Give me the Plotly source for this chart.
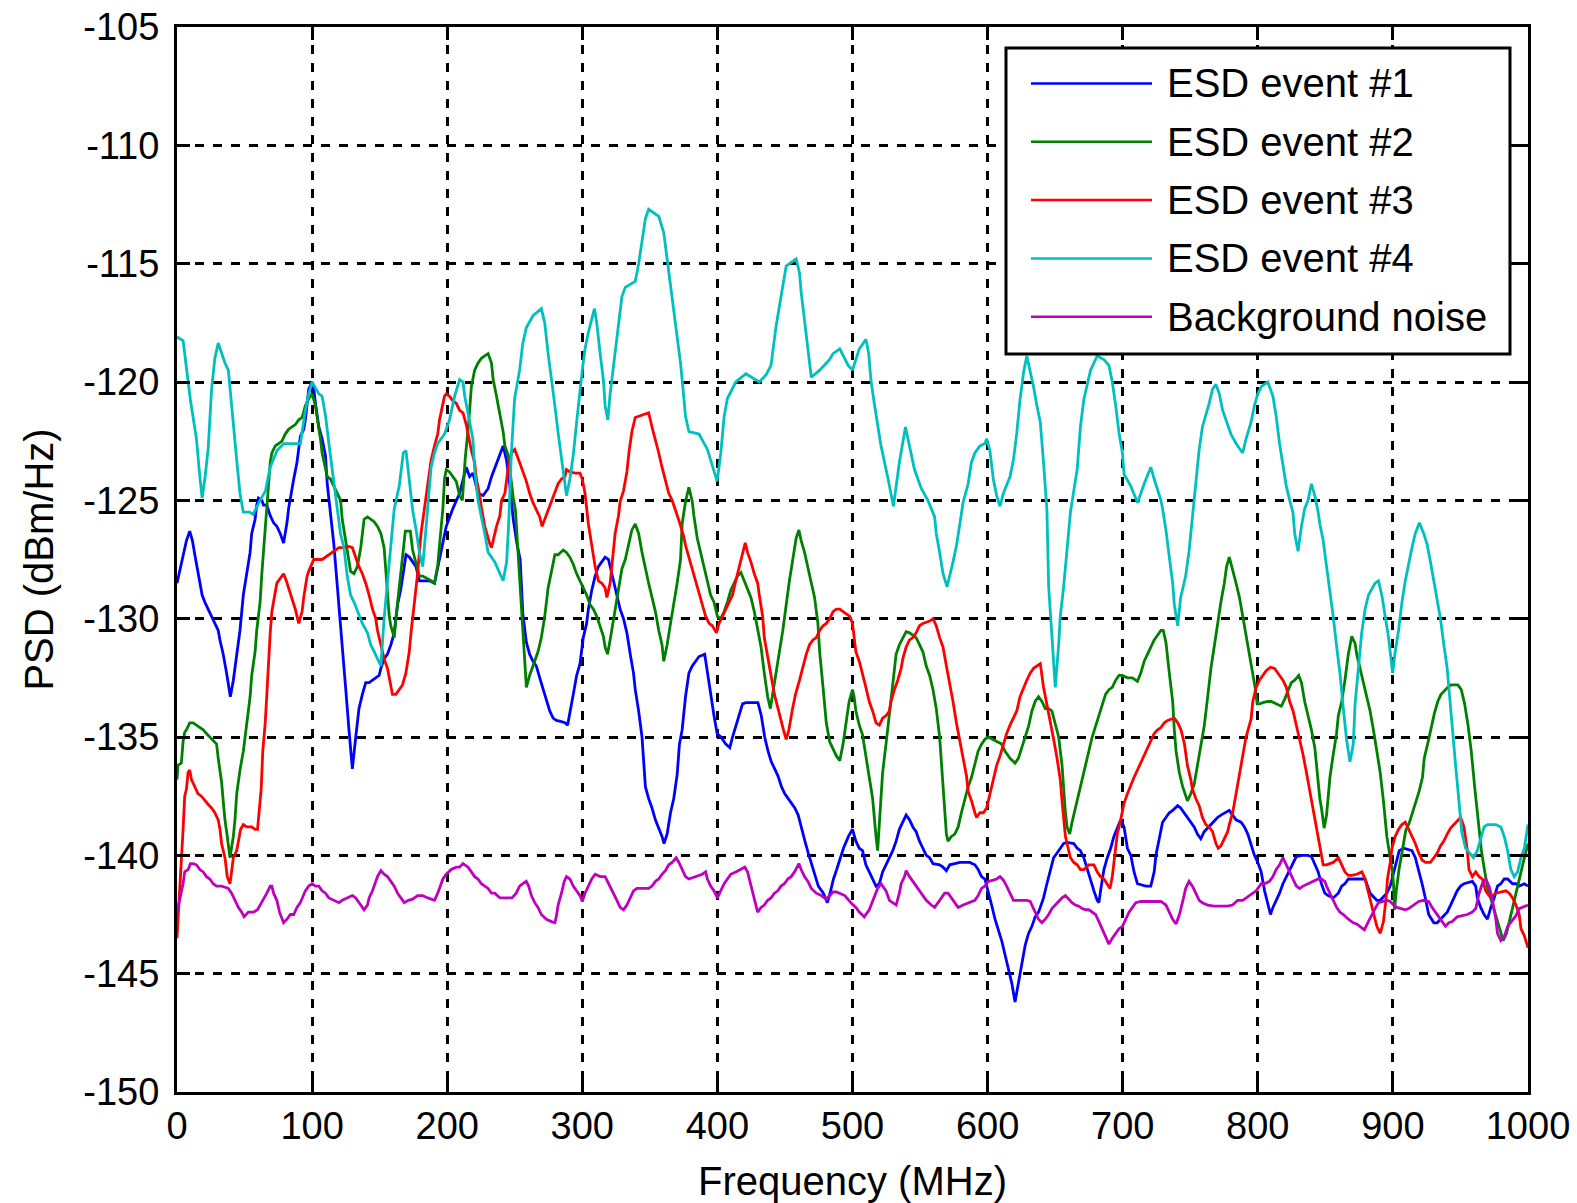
import plotly.graph_objects as go

# Power spectral density traces: (frequency in MHz, PSD in dBm/Hz)
esd_event_1 = [(0,-128.5),(4.5,-127.3),(7,-126.7),(9.4,-126.3),(11.4,-126.7),(13.2,-127.3),(15.6,-128.1),(18.6,-129.0),(20.6,-129.3),(25.6,-129.9),(30.5,-130.5),(31.8,-130.9),(34.2,-131.5),(36.7,-132.3),(38,-132.7),(39.5,-133.3),(41.7,-132.6),(44.2,-131.4),(46.6,-130.5),(49.1,-129.0),(51.6,-128.1),(54.1,-127.2),(55.3,-126.4),(57.8,-125.8),(59,-125.2),(60.3,-124.9),(62.8,-125.0),(64,-125.2),(66.5,-125.2),(69,-125.65),(71.5,-125.95),(73.9,-126.1),(76.4,-126.4),(78.9,-126.8),(81.4,-125.95),(82.6,-125.35),(86.4,-124.1),(88.8,-123.4),(91.3,-122.3),(93.8,-122.0),(95,-121.6),(96.3,-120.9),(97.5,-120.3),(100,-120.0),(101.2,-120.3),(102.5,-120.9),(103.7,-121.45),(105,-121.9),(107.4,-122.4),(109.9,-123.1),(111.2,-124.3),(113.6,-125.5),(116.1,-126.85),(117.9,-128.1),(119.9,-129.6),(122.3,-131.15),(124.8,-132.9),(127.3,-134.7),(129.8,-136.35),(132.3,-135.0),(134.7,-133.8),(137.2,-133.2),(139.7,-132.7),(142.2,-132.7),(149.6,-132.4),(150.9,-132.1),(153.3,-131.7),(155.8,-131.5),(158.3,-131.1),(160.8,-130.6),(163.3,-129.4),(165.8,-128.7),(167.5,-128.1),(169.5,-127.3),(172,-127.4),(176.9,-127.8),(179.4,-128.4),(186.8,-128.4),(190.6,-128.5),(193,-127.8),(195.5,-127.2),(199.3,-126.1),(204.2,-125.35),(209.2,-124.7),(214.1,-123.6),(216.6,-124.0),(219.1,-123.85),(222.8,-124.7),(226.6,-124.8),(230.3,-124.5),(232.8,-124.0),(236.5,-123.4),(239,-123.0),(241.4,-122.7),(243.9,-123.3),(246.4,-124.4),(248.9,-125.8),(251.5,-126.8),(254,-127.5),(256,-129.8),(258.6,-131.0),(261,-131.5),(263.5,-131.8),(266,-132.0),(268.5,-132.5),(271,-133.0),(273.4,-133.4),(275.9,-133.9),(278.4,-134.2),(280.8,-134.3),(284.6,-134.35),(287.1,-134.4),(289.1,-134.5),(290.8,-133.9),(293.3,-133.2),(295.8,-132.4),(298.3,-131.9),(300.7,-130.8),(303.2,-130.2),(304.5,-129.6),(307,-128.8),(309.5,-128.2),(311.9,-127.8),(314.4,-127.6),(316.9,-127.4),(319.4,-127.5),(320.6,-127.8),(321.8,-128.1),(323.1,-128.5),(325.6,-129.0),(328,-129.6),(330.5,-130.0),(333,-130.6),(335.5,-131.5),(337.9,-132.3),(339.2,-133.0),(341.7,-133.9),(344.2,-135.0),(345.4,-136.2),(346.7,-137.1),(349.1,-137.6),(351.6,-138.0),(354.1,-138.5),(356.6,-138.85),(359,-139.2),(360.5,-139.5),(362.8,-139.1),(365.3,-138.2),(367.7,-137.6),(370.2,-136.6),(371.9,-135.3),(373.9,-134.7),(376.4,-133.3),(378.9,-132.3),(381.4,-132.0),(383.9,-131.8),(386.4,-131.6),(390.6,-131.5),(392.6,-132.3),(395,-133.2),(397.5,-134.1),(399.8,-134.85),(402.5,-135.0),(406.2,-135.3),(409.2,-135.45),(411.2,-135.0),(413.6,-134.55),(416.1,-134.1),(418.6,-133.6),(421.1,-133.55),(430,-133.55),(432.5,-134.1),(435,-135.0),(437.5,-135.6),(439.9,-136.05),(442.4,-136.35),(444.9,-136.65),(447.4,-137.1),(449.9,-137.4),(453.6,-137.7),(457.3,-138.0),(459.8,-138.3),(462.3,-138.8),(464.8,-139.4),(467.2,-139.9),(469.7,-140.4),(472.2,-140.9),(474.7,-141.3),(478.4,-141.6),(481.4,-142.0),(483.4,-141.6),(485.9,-141.0),(488.3,-140.6),(490.8,-140.1),(493.3,-139.7),(497,-139.2),(500,-138.9),(502.5,-139.4),(505,-139.7),(507.4,-139.8),(509.9,-140.4),(512.4,-140.7),(514.9,-141.0),(517.4,-141.3),(519.9,-141.2),(522.3,-140.7),(524.8,-140.4),(527.3,-140.1),(529.8,-139.8),(532.3,-139.4),(534.7,-138.9),(537.2,-138.6),(539.7,-138.3),(542.2,-138.5),(544.7,-138.8),(547.1,-139.0),(549.6,-139.4),(552.1,-139.7),(554.6,-140.0),(557.1,-140.1),(559.6,-140.35),(564.5,-140.4),(567,-140.5),(569.5,-140.65),(572,-140.4),(575.7,-140.35),(579.4,-140.3),(586.8,-140.3),(590.6,-140.4),(593,-140.6),(595.5,-140.9),(598,-141.0),(600.5,-141.5),(603,-142.1),(605.5,-142.7),(607.9,-143.1),(610.4,-143.6),(612.9,-144.2),(615.4,-144.8),(617.9,-145.4),(620.3,-146.2),(622.8,-145.4),(625.3,-144.7),(627.8,-143.8),(630.3,-143.3),(632.8,-143.0),(635.2,-142.6),(637.7,-142.4),(639,-142.2),(641.4,-141.8),(643.9,-141.2),(646.4,-140.7),(648.9,-140.1),(651.4,-139.9),(653.8,-139.7),(656.3,-139.5),(658.8,-139.45),(663.8,-139.5),(666.3,-139.7),(668.7,-139.8),(671.2,-140.1),(673.7,-140.6),(676.2,-141.0),(678.7,-141.5),(681.1,-141.9),(682.4,-142.0),(683.6,-141.5),(686.1,-140.6),(688.6,-140.1),(691.1,-139.7),(693.5,-139.2),(696,-138.85),(698.5,-138.5),(701,-138.8),(702.2,-139.2),(703.5,-139.7),(706,-140.0),(707.2,-140.4),(708.4,-140.7),(710.9,-141.2),(713.4,-141.25),(717.1,-141.3),(720.8,-141.3),(723.3,-140.7),(724.6,-140.0),(727.1,-139.2),(729.5,-138.6),(732,-138.4),(734.5,-138.2),(737,-138.1),(740.7,-137.9),(742.9,-138.0),(745.4,-138.2),(747.9,-138.4),(750.4,-138.6),(752.9,-138.8),(755.3,-139.1),(757.8,-139.3),(760.3,-139.0),(762.8,-138.85),(765.3,-138.7),(767.7,-138.55),(770.2,-138.4),(772.7,-138.3),(776.4,-138.2),(778.9,-138.1),(781.4,-138.3),(783.9,-138.5),(787.6,-138.6),(790.1,-138.8),(792.6,-139.1),(795,-139.5),(797.5,-140.0),(800,-140.3),(802.5,-140.7),(805,-141.5),(807.4,-142.1),(809.4,-142.5),(811.2,-142.2),(813.6,-141.9),(816.1,-141.6),(818.6,-141.2),(821.1,-140.9),(823.6,-140.6),(826.1,-140.3),(828.5,-140.05),(832.3,-140.0),(837.2,-140.0),(839.7,-140.05),(842.2,-140.4),(844.7,-140.7),(847.1,-141.2),(849.6,-141.6),(852.1,-141.7),(855.8,-141.8),(859.6,-141.6),(862.1,-141.3),(864.5,-141.2),(867,-141.0),(879.4,-141.0),(881.4,-141.3),(883.1,-141.6),(885.6,-141.75),(888.1,-141.9),(890.6,-141.9),(893,-141.75),(895.5,-141.6),(898,-141.3),(900.5,-140.7),(903,-140.1),(904.7,-139.8),(908,-139.7),(914.1,-139.8),(916.6,-140.1),(919.1,-140.6),(921.6,-141.2),(924,-141.8),(926.5,-142.5),(930.3,-142.85),(932.8,-142.85),(935.2,-142.7),(937.7,-142.55),(940.2,-142.4),(942.7,-142.1),(945.2,-141.8),(947.6,-141.5),(950.1,-141.3),(952.6,-141.2),(958.8,-141.1),(961.3,-141.3),(962.5,-141.8),(965,-142.2),(967.5,-142.5),(970,-142.7),(972.5,-142.2),(975,-141.8),(977.4,-141.3),(979.9,-141.2),(982.4,-141.0),(984.9,-141.0),(988.6,-141.2),(991.1,-141.2),(993.5,-141.3),(997.3,-141.2),(1000,-141.3)]

esd_event_2 = [(0,-136.8),(0.7,-136.2),(3.2,-136.1),(4.5,-135.2),(5.7,-134.8),(7,-134.7),(9.4,-134.4),(11.9,-134.4),(14.4,-134.5),(16.9,-134.6),(19.4,-134.7),(21.8,-134.85),(24.3,-135.0),(26.8,-135.15),(29.3,-135.3),(30.5,-135.9),(33,-136.9),(34.2,-137.7),(35.5,-138.5),(37.2,-139.2),(39.2,-140.1),(41.7,-139.2),(42.9,-138.5),(44.2,-137.4),(46.6,-136.4),(49.1,-135.6),(51.6,-134.4),(54.1,-133.3),(55.3,-132.4),(57.8,-131.4),(59,-130.5),(60.3,-129.9),(61.5,-129.3),(62.8,-128.1),(64,-127.2),(65.3,-126.1),(66.5,-125.35),(67.7,-124.1),(69,-123.4),(70.2,-123.0),(72.7,-122.7),(75.2,-122.6),(77.7,-122.5),(80.1,-122.2),(82.6,-122.0),(85.1,-121.9),(87.6,-121.8),(90.1,-121.6),(92.6,-121.5),(95,-121.0),(97.5,-120.7),(100,-120.5),(102.5,-121.0),(105,-122.0),(106.2,-122.4),(107.4,-123.0),(108.7,-123.4),(111.2,-124.0),(113.6,-124.1),(116.1,-124.4),(118.6,-124.7),(121.1,-125.0),(122.3,-125.8),(123.6,-126.3),(126,-127.1),(128.5,-128.0),(131,-128.1),(133.5,-127.8),(136,-127.0),(137.2,-126.3),(138.5,-125.8),(141,-125.7),(143.4,-125.8),(145.9,-125.9),(148.4,-126.1),(150.9,-126.4),(153.3,-127.0),(154.6,-128.1),(155.8,-129.0),(157.1,-129.9),(158.3,-130.3),(160.8,-130.8),(162,-130.0),(163.3,-129.3),(165.8,-128.1),(167.5,-127.2),(169,-126.3),(170.7,-126.3),(172.7,-126.3),(174.4,-127.1),(176.9,-127.6),(179.4,-128.2),(181.9,-128.2),(185.6,-128.3),(188.1,-128.4),(190.6,-128.5),(193,-127.75),(194.3,-126.9),(196.8,-125.35),(198,-124.1),(199.3,-123.7),(201.7,-123.8),(204.2,-124.0),(206.7,-124.2),(209.2,-124.8),(211.2,-125.0),(213.4,-123.2),(215.8,-121.8),(217.9,-120.2),(220.3,-119.5),(222.8,-119.2),(225.3,-119.0),(227.8,-118.9),(230.3,-118.8),(232.8,-119.2),(234,-119.9),(236.5,-120.6),(239,-121.3),(241.4,-122.1),(242.7,-122.7),(245.2,-123.1),(246.4,-123.7),(247.6,-124.4),(248.9,-124.9),(250.5,-125.4),(251.7,-126.5),(253.6,-128.4),(256,-130.5),(258.6,-132.9),(261,-132.4),(263.5,-132.0),(264.8,-131.7),(267.2,-131.4),(269.7,-130.8),(272.2,-129.9),(274.7,-128.7),(277.2,-128.0),(279.7,-127.3),(282.1,-127.3),(285.9,-127.1),(288.3,-127.2),(290.8,-127.4),(293.3,-127.7),(295.8,-128.1),(298.3,-128.4),(300.7,-128.7),(303.2,-129.0),(305.7,-129.4),(308.2,-129.6),(310.7,-129.9),(313.2,-130.3),(315.6,-130.75),(316.9,-131.2),(318.7,-131.5),(320.6,-130.9),(321.8,-130.5),(324.3,-129.7),(326.8,-128.7),(329.3,-127.9),(331.8,-127.5),(334.2,-126.9),(336.7,-126.25),(339.2,-126.0),(341.7,-126.4),(344.2,-127.2),(346.7,-127.9),(349.1,-128.5),(351.6,-129.1),(354.1,-129.7),(356.6,-130.5),(359,-131.1),(360.3,-131.8),(362.8,-131.1),(365.3,-130.2),(367.7,-129.4),(370.2,-128.5),(372.7,-127.5),(373.9,-126.0),(376.4,-125.05),(377.7,-124.7),(378.9,-124.45),(381.4,-125.05),(382.6,-125.65),(385.1,-126.6),(387.6,-127.2),(390.1,-127.9),(392.6,-128.5),(395,-129.0),(397.5,-129.3),(400,-129.9),(402.5,-130.0),(405,-129.7),(407.4,-129.3),(409.9,-128.8),(412.4,-128.5),(414.9,-128.2),(417.4,-128.05),(419.9,-128.4),(422.3,-128.7),(424.8,-129.1),(427.3,-129.7),(429.8,-130.5),(432.3,-131.2),(434.7,-132.3),(437.2,-133.3),(439.2,-133.8),(441,-133.2),(443.4,-132.3),(445.9,-131.4),(448.4,-130.5),(450.9,-129.4),(453.3,-128.4),(455.8,-127.5),(458.3,-126.6),(460.3,-126.25),(462,-126.7),(464.5,-127.2),(467,-127.8),(469.5,-128.4),(471.9,-129.1),(474.4,-130.2),(475.7,-131.4),(478.2,-132.9),(480.6,-134.4),(483.1,-135.2),(485.6,-135.5),(488.1,-135.8),(490.6,-136.0),(493,-135.3),(495.5,-134.3),(497.5,-133.5),(500,-133.0),(501.2,-133.3),(502.5,-133.9),(505,-134.5),(507.4,-134.9),(509.9,-135.9),(512.4,-136.7),(514.9,-137.6),(516.1,-138.5),(517.4,-139.2),(518.6,-139.8),(519.9,-138.6),(521.1,-137.7),(522.3,-136.5),(524.8,-135.3),(526,-134.7),(527.3,-133.9),(528.5,-133.2),(529.8,-132.6),(531,-132.0),(532.3,-131.5),(534.7,-131.1),(537.2,-130.8),(539.7,-130.55),(542.2,-130.6),(544.7,-130.7),(547.1,-130.8),(549.6,-131.1),(552.1,-131.4),(554.6,-132.0),(557.1,-132.4),(559.6,-133.0),(562,-133.8),(564.5,-135.0),(565.8,-136.1),(567,-137.1),(568.2,-138.2),(569.5,-139.1),(570.7,-139.4),(573.2,-139.2),(575.7,-139.1),(578.2,-138.8),(580.6,-138.2),(583.1,-137.6),(585.6,-137.1),(588.1,-136.7),(590.6,-136.1),(593,-135.6),(595.5,-135.3),(598,-135.1),(600.5,-135.0),(604.2,-135.1),(607.9,-135.2),(610.4,-135.3),(612.9,-135.6),(616.6,-135.9),(620.3,-136.1),(622.8,-135.9),(625.3,-135.45),(627.8,-135.0),(630.3,-134.55),(632.8,-133.9),(635.2,-133.5),(637.7,-133.3),(640.2,-133.5),(642.7,-133.8),(645.2,-133.8),(647.6,-133.9),(650.1,-134.4),(652.6,-135.0),(655.1,-136.2),(656.3,-137.4),(657.6,-138.2),(658.8,-138.8),(660.8,-139.1),(662.5,-138.6),(665,-138.0),(667.5,-137.4),(670,-136.8),(672.5,-136.2),(674.9,-135.6),(677.4,-135.0),(679.9,-134.55),(682.4,-134.1),(684.9,-133.6),(687.3,-133.2),(689.8,-133.0),(692.3,-132.9),(694.8,-132.6),(697.3,-132.4),(699.8,-132.4),(703.5,-132.5),(707.2,-132.5),(710.9,-132.65),(713.4,-132.3),(715.9,-131.8),(718.4,-131.5),(720.8,-131.2),(723.3,-130.9),(725.8,-130.7),(728.3,-130.5),(730,-130.5),(732,-131.0),(734.5,-132.3),(737,-133.5),(738.2,-134.7),(739.5,-135.6),(741.9,-136.5),(744.4,-137.1),(747.9,-137.7),(750.4,-137.4),(752.9,-137.0),(755.3,-136.2),(757.8,-135.3),(760.3,-134.55),(762.8,-133.35),(765.3,-132.1),(767.7,-131.2),(770.2,-130.2),(772.7,-129.3),(775.2,-128.5),(776.9,-127.8),(778.9,-127.4),(781.4,-127.9),(783.9,-128.5),(786.4,-129.1),(788.8,-129.9),(791.3,-130.6),(793.8,-131.4),(795.5,-132.1),(798,-132.9),(799.5,-133.6),(801.2,-133.6),(803.7,-133.55),(807.4,-133.5),(809.9,-133.5),(813.6,-133.6),(817.4,-133.7),(819.9,-133.4),(822.3,-133.05),(824.8,-132.7),(827.3,-132.6),(830.3,-132.4),(832.3,-132.7),(834.7,-133.5),(837.2,-134.1),(839.7,-134.7),(842.2,-135.45),(843.4,-136.2),(844.7,-137.0),(845.9,-137.6),(847.1,-138.0),(849.1,-138.85),(850.9,-138.3),(852.1,-137.4),(853.4,-136.7),(855.8,-135.75),(858.3,-134.85),(859.6,-134.1),(862.1,-133.5),(864.5,-132.6),(867,-131.5),(869.5,-130.75),(872,-131.05),(873.2,-131.5),(875.7,-132.1),(878.2,-132.7),(880.6,-133.2),(883.1,-133.9),(885.6,-134.7),(888.1,-135.6),(890.6,-136.5),(893,-137.7),(894.3,-138.6),(895.5,-139.2),(898,-140.1),(899.8,-140.7),(900.5,-141.3),(901.2,-142.3),(902.5,-141.5),(904.5,-140.6),(907,-139.8),(909.5,-138.95),(912,-138.65),(914.5,-138.2),(917,-137.7),(919.4,-137.3),(921.9,-136.7),(923.2,-135.9),(925.7,-135.3),(928.2,-134.6),(930.7,-134.0),(933.2,-133.5),(935.6,-133.2),(938.1,-133.05),(940.6,-132.9),(943.1,-132.8),(948.1,-132.8),(950.6,-133.0),(953.1,-133.6),(955.6,-134.5),(958,-135.6),(960.5,-137.1),(963,-138.5),(965.5,-139.8),(968,-140.7),(970.5,-141.5),(972.9,-141.9),(975.4,-142.4),(977.9,-142.8),(980.4,-143.3),(981.6,-143.6),(984.1,-143.3),(986.6,-142.7),(989.1,-142.1),(991.6,-141.5),(994,-140.8),(996.5,-140.3),(1000,-139.5)]

esd_event_3 = [(0,-143.5),(2,-141.5),(3.2,-140.6),(4.5,-138.9),(5.7,-137.5),(7,-137.2),(8.2,-136.5),(9.4,-136.4),(10.7,-136.8),(13.2,-137.1),(15.6,-137.4),(18.1,-137.5),(20.6,-137.7),(23.1,-137.85),(25.6,-138.0),(28,-138.2),(30.5,-138.5),(31.8,-138.9),(33,-139.5),(34.2,-139.8),(35.5,-140.1),(37.2,-140.9),(39.2,-141.2),(40.4,-140.7),(41.7,-140.1),(44.2,-139.8),(45.4,-139.4),(47.1,-138.9),(49.1,-138.7),(51.6,-138.8),(55.3,-138.8),(57.8,-138.9),(59.6,-138.9),(61,-138.1),(62.3,-137.2),(63.5,-135.6),(65.3,-134.4),(66.5,-133.2),(67.7,-131.7),(69,-130.6),(70.2,-129.7),(71.5,-129.3),(72.7,-128.8),(73.9,-128.5),(76.4,-128.3),(78.9,-128.1),(80.9,-128.4),(82.6,-128.7),(85.1,-129.1),(87.6,-129.6),(90.1,-130.2),(92.6,-129.7),(93.8,-129.1),(95,-128.7),(96.3,-128.2),(97.5,-128.0),(98.8,-127.8),(100,-127.6),(101.2,-127.5),(107.4,-127.5),(109.9,-127.4),(112.4,-127.3),(114.9,-127.2),(117.4,-127.1),(119.9,-127.0),(123.6,-127.0),(127.3,-126.95),(129.8,-127.0),(132.3,-127.4),(134.7,-127.8),(137.2,-128.1),(139.7,-128.5),(142.2,-129.0),(144.7,-129.6),(147.1,-130.0),(148.4,-130.5),(150.9,-131.1),(153.3,-131.7),(155.8,-132.1),(157.8,-132.7),(159.5,-133.2),(162,-133.2),(164.5,-133.0),(166.9,-132.8),(169.4,-132.3),(171.9,-131.4),(173.2,-130.6),(174.4,-130.0),(176.9,-128.7),(178.1,-128.1),(180.6,-126.4),(183.1,-125.35),(185.6,-124.4),(188.1,-123.3),(190.6,-122.7),(193,-122.2),(194.3,-121.6),(195.5,-121.3),(196.8,-120.9),(198,-120.6),(199.3,-120.5),(201.7,-120.6),(204.2,-120.8),(206.7,-120.9),(209.2,-121.2),(211.7,-121.3),(214.1,-121.8),(215.4,-122.2),(216.6,-122.6),(217.9,-122.9),(220.3,-123.4),(221.6,-124.1),(224.1,-124.8),(225.3,-125.3),(227.8,-126.1),(229.1,-126.4),(231.6,-126.85),(232.8,-127.0),(234,-126.7),(236.5,-126.1),(239,-125.65),(240.2,-125.0),(242.7,-124.7),(245.2,-123.6),(247.6,-123.0),(250,-122.85),(253.6,-123.4),(256,-123.8),(258.6,-124.2),(261,-124.7),(263.5,-125.1),(266,-125.4),(268.5,-125.7),(270.2,-126.1),(272.2,-125.8),(274.7,-125.4),(277.2,-125.0),(279.7,-124.7),(282.1,-124.3),(284.6,-124.1),(287.1,-124.0),(288.3,-123.7),(290.8,-123.8),(294.5,-123.85),(298.3,-123.85),(300,-124.1),(302,-124.7),(304.5,-126.0),(307,-126.9),(309.5,-127.8),(311.9,-128.4),(314.4,-128.5),(316.9,-128.7),(318.2,-129.1),(320.6,-128.5),(321.8,-127.9),(324.3,-126.4),(326.8,-125.65),(328,-125.05),(330.5,-124.6),(333,-123.8),(334.7,-122.9),(336.7,-122.1),(339.2,-121.5),(341.7,-121.45),(345.4,-121.4),(349.1,-121.3),(351.6,-121.9),(354.1,-122.4),(356.6,-123.0),(359,-123.6),(361.5,-124.1),(364,-124.7),(366.5,-125.0),(369,-125.4),(371.5,-125.85),(373.9,-126.3),(375.2,-126.55),(376.4,-126.9),(378.9,-127.4),(381.4,-128.0),(383.9,-128.5),(386.4,-128.9),(388.8,-129.4),(391.3,-129.9),(393.8,-130.2),(396.3,-130.3),(399.3,-130.6),(401.2,-130.2),(403.7,-129.9),(406.2,-129.6),(408.7,-129.3),(411.2,-129.0),(413.6,-128.4),(416.1,-127.8),(418.6,-127.2),(420.6,-126.8),(422.3,-127.2),(424.8,-127.6),(427.3,-128.1),(429.8,-128.5),(431,-129.0),(433.5,-129.9),(434.7,-130.8),(437.2,-131.7),(439.7,-132.4),(442.2,-133.2),(444.7,-133.8),(447.1,-134.25),(448.9,-134.7),(450.9,-135.1),(452.9,-134.7),(455.3,-133.9),(457.8,-133.2),(460.8,-132.6),(463.3,-132.0),(465.8,-131.5),(468.2,-131.1),(470.7,-130.9),(473.2,-130.8),(475.7,-130.5),(478.2,-130.3),(480.6,-130.2),(483.1,-130.0),(485.6,-129.7),(488.1,-129.6),(490.6,-129.6),(493,-129.7),(495.5,-129.8),(498,-129.9),(500,-130.2),(501.2,-130.8),(502.5,-131.4),(505,-131.8),(507.4,-132.3),(509.9,-132.9),(512.4,-133.5),(514.9,-133.9),(517.4,-134.4),(519.9,-134.5),(522.3,-134.2),(524.8,-134.1),(527.3,-133.9),(528.5,-133.5),(531,-133.0),(533.5,-132.6),(536,-132.1),(537.2,-131.7),(539.7,-131.2),(542.2,-130.9),(544.7,-130.8),(547.1,-130.6),(549.6,-130.3),(552.1,-130.2),(554.6,-130.15),(557.1,-130.1),(559.6,-130.0),(562,-130.3),(564.5,-130.8),(567,-131.2),(569.5,-132.0),(572,-132.7),(574.4,-133.5),(576.9,-134.4),(579.4,-135.1),(581.9,-135.9),(584.4,-136.65),(585.6,-137.3),(588.1,-137.7),(590.6,-138.2),(591.8,-138.4),(594.3,-138.2),(596.8,-138.2),(599.3,-138.0),(601.7,-137.4),(604.2,-136.8),(606.7,-136.2),(609.2,-135.8),(611.7,-135.3),(614.1,-134.85),(616.6,-134.5),(619.1,-134.2),(621.6,-133.9),(624,-133.3),(626.6,-132.9),(629,-132.6),(631.5,-132.3),(634,-132.1),(636.5,-132.0),(639,-131.9),(641.4,-132.9),(643.9,-133.6),(646.4,-134.4),(648.9,-135.1),(651.4,-135.9),(653.8,-136.8),(655.1,-137.7),(656.3,-138.4),(657.6,-139.2),(658.8,-139.5),(660.1,-139.8),(661.3,-140.1),(663.8,-140.3),(666.3,-140.4),(668.7,-140.6),(671.2,-140.6),(674.9,-140.4),(678.7,-140.4),(681.1,-140.7),(683.6,-140.9),(686.1,-141.0),(688.6,-141.2),(690.6,-141.4),(692.3,-140.9),(693.5,-140.3),(694.8,-139.7),(696,-139.1),(698.5,-138.5),(699.8,-138.1),(701,-137.8),(703.5,-137.4),(706,-137.0),(708.4,-136.7),(710.9,-136.4),(713.4,-136.1),(715.9,-135.8),(718.4,-135.5),(720.8,-135.2),(723.3,-134.85),(725.8,-134.7),(728.3,-134.6),(730.8,-134.4),(733.3,-134.3),(735.7,-134.25),(738.2,-134.2),(740.7,-134.4),(743.2,-134.7),(745.7,-135.3),(747.9,-136.2),(750.4,-136.8),(751.6,-137.2),(754.1,-137.6),(756.6,-137.9),(759,-138.4),(761.5,-138.7),(764,-138.8),(766.5,-139.0),(769,-139.5),(770.7,-139.7),(772.7,-139.6),(775.2,-139.3),(777.7,-139.0),(778.9,-138.7),(781.4,-138.2),(783.9,-137.4),(786.4,-136.5),(788.8,-135.8),(791.3,-135.0),(793,-134.7),(795,-134.25),(796.3,-133.5),(798.8,-132.9),(801.2,-132.6),(803.7,-132.4),(806.2,-132.2),(809.4,-132.05),(812.4,-132.1),(816.1,-132.4),(818.6,-132.6),(821.1,-132.9),(823.6,-133.5),(826.1,-133.9),(828.5,-134.5),(831,-135.0),(833.5,-135.75),(836,-136.5),(838.5,-137.3),(840.9,-138.0),(843.4,-138.9),(845.9,-139.7),(848.4,-140.4),(850.9,-140.4),(853.4,-140.35),(855.8,-140.3),(859.6,-140.1),(862.1,-140.4),(864.5,-140.7),(867,-140.85),(869.5,-140.85),(873.2,-140.8),(877,-140.7),(879.4,-141.0),(881.9,-141.6),(884.4,-142.2),(886.8,-142.7),(888.1,-143.0),(890.6,-143.3),(893,-142.8),(894.8,-141.9),(896,-141.0),(898,-140.3),(899.3,-139.7),(901.7,-139.2),(904.2,-138.9),(906.7,-138.7),(909.2,-138.6),(911.7,-138.9),(914.1,-139.2),(916.6,-139.5),(919.1,-139.9),(921.6,-140.2),(924,-140.3),(927.8,-140.3),(930.3,-140.1),(932.8,-139.9),(935.2,-139.6),(937.7,-139.4),(940.2,-139.1),(942.7,-138.85),(945.2,-138.7),(947.6,-138.55),(950.1,-138.4),(952.6,-138.8),(953.8,-139.2),(955.1,-139.8),(956.3,-140.6),(958.8,-140.9),(961.3,-140.7),(963.8,-140.9),(966.2,-141.0),(968.7,-141.5),(971.2,-141.7),(973.7,-141.7),(976.2,-141.6),(979.9,-141.55),(983.6,-141.5),(986.1,-141.6),(988.6,-141.8),(991.1,-142.1),(993.5,-142.5),(994.8,-143.1),(997.3,-143.4),(1000,-143.9)]

esd_event_4 = [(0,-118.1),(4.5,-118.25),(9.9,-120.75),(14.4,-122.4),(16.9,-124.0),(18.6,-124.9),(20.6,-124.1),(23.1,-122.8),(25.6,-120.3),(28,-119.0),(30.5,-118.35),(33,-118.8),(35.5,-119.2),(38,-119.5),(39.2,-120.3),(41.7,-121.9),(44.2,-123.3),(46.6,-124.7),(49.1,-125.5),(53.8,-125.5),(56.3,-125.6),(61.5,-125.0),(65.5,-124.6),(69,-123.6),(74,-122.9),(79,-122.6),(91.3,-122.6),(95,-121.2),(97.5,-120.5),(100,-120.0),(105,-120.5),(107.4,-120.6),(110,-121.45),(112.4,-122.6),(114.9,-123.6),(117.4,-124.8),(121,-126.4),(123.6,-127.0),(126,-128.2),(128.5,-129.0),(131,-129.3),(133.5,-129.7),(137.2,-130.2),(141,-130.6),(143.4,-131.1),(146,-131.4),(148.4,-131.7),(150.9,-132.0),(153.3,-130.0),(155.8,-128.4),(158.3,-127.0),(160.8,-125.35),(164.5,-124.4),(167.5,-123.0),(169.5,-122.9),(172,-124.1),(174.4,-125.4),(177,-126.25),(179.4,-127.2),(181.9,-127.8),(184.4,-126.1),(186.8,-124.6),(188.1,-123.6),(190.6,-123.0),(193,-122.6),(195.5,-122.4),(198,-122.2),(201.7,-121.6),(205.5,-120.6),(209.2,-119.9),(211.7,-120.0),(213,-120.6),(216.6,-121.6),(219,-122.4),(220.3,-123.7),(222.8,-125.0),(227.8,-126.4),(230.3,-127.2),(235.2,-127.6),(237.7,-127.9),(241.4,-128.4),(244,-127.6),(245.5,-126.0),(247.4,-123.1),(249.9,-120.7),(253.6,-119.5),(256,-118.35),(258.6,-117.7),(263.5,-117.2),(269.7,-116.9),(272.2,-117.5),(274.7,-118.8),(277.2,-119.8),(279.7,-121.0),(282.1,-122.15),(284.6,-123.3),(287.1,-124.3),(288.3,-124.8),(290.8,-124.1),(293.3,-123.1),(295.8,-121.7),(298.3,-120.3),(300,-119.5),(302,-118.6),(304.5,-117.9),(309,-116.9),(310.7,-117.5),(313.2,-118.8),(315.6,-119.9),(316.9,-121.0),(318.9,-121.6),(320.6,-120.5),(324.3,-118.8),(326.8,-117.6),(329.3,-116.4),(331.8,-116.0),(339.2,-115.75),(341.7,-115.0),(344.2,-114.0),(346.7,-113.1),(349.1,-112.7),(356.6,-113.0),(360.3,-113.7),(362.8,-114.8),(365.3,-115.8),(367.7,-116.9),(370.2,-118.1),(372.7,-119.2),(374.4,-120.2),(376.4,-121.45),(378.9,-122.1),(386.4,-122.2),(392.6,-122.85),(395,-123.3),(397.5,-123.85),(399.8,-124.2),(402.5,-123.0),(405,-121.45),(407.4,-120.7),(413.6,-120.0),(421.1,-119.65),(431,-120.0),(436,-119.7),(439.7,-119.3),(443.4,-117.65),(448.4,-116.0),(450.9,-115.1),(458.3,-114.8),(460.8,-115.4),(462,-116.2),(464.5,-117.4),(467,-118.6),(469.5,-119.8),(475.7,-119.5),(483.1,-119.05),(485.6,-118.8),(490.6,-118.6),(496.8,-119.3),(500,-119.5),(505,-118.6),(510,-118.2),(512,-118.8),(513.6,-119.9),(516.1,-120.9),(521.1,-122.7),(526,-124.0),(530.3,-125.25),(532.3,-124.4),(534.7,-123.4),(539.2,-121.9),(541,-122.4),(545.9,-123.7),(550.9,-124.5),(555.8,-125.0),(560.8,-125.7),(562,-126.4),(564.5,-127.2),(567,-128.1),(570,-128.65),(572,-128.2),(574.4,-127.6),(577,-126.9),(579.4,-126.1),(582,-125.05),(585.6,-124.3),(588,-123.4),(590.6,-123.0),(594.3,-122.7),(598,-122.6),(599.3,-122.4),(601.7,-122.9),(604.2,-124.1),(606.7,-124.8),(609.2,-125.25),(611.7,-124.7),(616.6,-124.0),(619.1,-123.3),(621.6,-122.15),(624,-120.75),(626.6,-119.6),(629,-118.9),(631.5,-119.5),(634,-120.2),(636.5,-121.0),(639,-121.7),(641.4,-123.4),(643.9,-125.4),(645.2,-128.65),(647.6,-130.6),(650.1,-132.9),(652.6,-131.1),(653.8,-129.9),(656.3,-128.65),(658.8,-127.2),(661.3,-125.5),(666.3,-123.7),(668.7,-121.9),(671.2,-120.75),(676.2,-119.5),(681.1,-118.9),(686.1,-119.05),(689.8,-119.3),(692.3,-120.0),(694.8,-121.0),(697.3,-122.15),(699.8,-123.0),(701,-123.9),(706,-124.4),(711,-125.1),(715.9,-124.3),(720.8,-123.6),(723.3,-124.1),(728.3,-125.0),(729.5,-125.35),(732,-126.25),(734.5,-127.4),(737,-128.5),(738.2,-129.4),(740.7,-130.3),(742.9,-129.1),(746.6,-128.2),(749.1,-127.15),(751.6,-125.8),(754.1,-124.3),(756.6,-122.85),(759,-121.9),(761.5,-121.45),(764,-120.9),(766.5,-120.3),(769,-120.1),(771.5,-120.5),(774,-121.2),(776.4,-121.6),(780.1,-122.2),(783.9,-122.6),(788.8,-123.0),(791.3,-122.4),(795,-121.7),(797.5,-121.0),(800,-120.5),(802.5,-120.2),(807.4,-120.0),(811.2,-120.6),(813.6,-121.45),(816.1,-122.6),(818.6,-123.6),(821.1,-124.4),(823.6,-125.0),(826,-125.5),(827.3,-126.4),(829.8,-127.15),(832.3,-126.1),(834.7,-125.35),(837.2,-125.0),(839.7,-124.3),(842.2,-124.8),(844.7,-125.5),(845.9,-126.0),(848.4,-126.7),(850.9,-127.8),(853.4,-128.8),(855.8,-129.9),(858.3,-131.15),(860.8,-132.3),(863.3,-133.8),(865.8,-135.15),(868.2,-136.05),(870.7,-135.3),(872,-133.6),(874.4,-132.0),(876.9,-130.6),(879.4,-129.6),(881.9,-129.0),(886.8,-128.5),(889.3,-128.4),(891.8,-129.0),(894.3,-129.9),(896.8,-130.8),(899.8,-132.3),(901.7,-131.4),(904.2,-130.5),(906.7,-129.3),(909.2,-128.4),(911.7,-127.6),(914.1,-127.0),(916.6,-126.4),(919.6,-125.95),(922.8,-126.4),(925.3,-126.85),(927.8,-127.6),(930.3,-128.4),(932.8,-129.1),(935.2,-130.0),(937.7,-131.1),(940.2,-132.1),(941.4,-132.9),(943.9,-134.7),(946.4,-136.2),(948.4,-137.4),(950.9,-139.0),(953.8,-139.7),(959.6,-140.1),(962.5,-139.8),(967.5,-138.8),(970,-138.7),(976.2,-138.7),(979.9,-138.8),(982.4,-139.2),(984.9,-139.8),(987.3,-140.6),(989.8,-140.9),(992.3,-140.7),(994.8,-140.1),(997.3,-139.7),(1000,-138.7)]

background_noise = [(0,-142.4),(2,-141.9),(3.2,-141.5),(4.5,-141.2),(5.7,-140.7),(8.2,-140.6),(10,-140.35),(11.9,-140.35),(14.4,-140.4),(16.9,-140.6),(19.4,-140.7),(21.8,-140.9),(24.3,-141.0),(26.8,-141.2),(29.3,-141.3),(33,-141.3),(35.5,-141.35),(38,-141.4),(40.4,-141.6),(42.9,-141.9),(45.4,-142.2),(47.9,-142.4),(49.6,-142.6),(52.8,-142.4),(56.6,-142.4),(59.6,-142.3),(61.5,-142.1),(64,-141.9),(66.5,-141.6),(69,-141.3),(70.2,-141.3),(71.5,-141.6),(73.9,-141.9),(75.9,-142.4),(77.7,-142.7),(78.9,-142.85),(81.4,-142.7),(83.9,-142.5),(86.4,-142.5),(88.8,-142.2),(91.3,-142.0),(93.8,-141.7),(95,-141.5),(97.5,-141.3),(100,-141.2),(102.5,-141.3),(105,-141.3),(107.4,-141.5),(109.9,-141.6),(112.4,-141.8),(116.1,-141.9),(119.9,-142.0),(122.3,-141.9),(126,-141.8),(129.8,-141.7),(132.3,-141.8),(134.7,-142.0),(137.2,-142.2),(138.5,-142.3),(141,-142.1),(142.2,-141.8),(144.7,-141.5),(146.4,-141.2),(148.4,-140.9),(150.9,-140.65),(153.3,-140.8),(155.8,-140.9),(158.3,-141.1),(160.8,-141.3),(163.3,-141.6),(165.8,-141.8),(168.2,-142.0),(171.2,-141.9),(174.4,-141.85),(178.1,-141.7),(181.9,-141.7),(185.6,-141.8),(188.1,-141.85),(190.6,-141.9),(193,-141.6),(195,-141.3),(196.8,-141.0),(199.3,-140.8),(203,-140.6),(206.7,-140.5),(209.2,-140.5),(211.7,-140.35),(215.4,-140.5),(217.9,-140.7),(220.3,-140.9),(222.8,-141.0),(225.3,-141.2),(227.8,-141.3),(230.3,-141.4),(232.8,-141.6),(235.2,-141.6),(239,-141.8),(248,-141.8),(251.1,-141.6),(253.6,-141.3),(256,-141.2),(258.5,-141.1),(260.3,-141.3),(262.3,-141.7),(264.8,-142.0),(267.2,-142.2),(269.7,-142.5),(273.4,-142.7),(277.2,-142.8),(279.7,-142.85),(280.9,-142.55),(282.1,-142.1),(284.6,-141.6),(286.6,-141.1),(288.3,-140.9),(290.8,-141.0),(293.3,-141.3),(295.8,-141.5),(298.3,-141.7),(300,-141.95),(302,-141.6),(304.5,-141.3),(307,-141.0),(309.5,-140.8),(313.2,-140.9),(316.9,-140.9),(320.6,-141.3),(323.1,-141.6),(325.6,-141.9),(328,-142.2),(330.5,-142.3),(333,-142.1),(335.5,-141.8),(337.9,-141.5),(340.4,-141.4),(349.1,-141.4),(351.6,-141.3),(354.1,-141.1),(356.6,-141.0),(359,-140.8),(361.5,-140.65),(364,-140.4),(366.5,-140.3),(369.5,-140.1),(371.5,-140.3),(373.9,-140.6),(376.4,-140.9),(378.9,-141.0),(381.4,-140.95),(385.1,-140.9),(388.8,-140.8),(391.3,-140.7),(392.6,-141.0),(395,-141.3),(397.5,-141.5),(400,-141.8),(402.5,-141.5),(405,-141.2),(407.4,-141.0),(409.9,-140.8),(413.6,-140.7),(417.4,-140.6),(420.3,-140.5),(422.3,-140.7),(424.8,-141.3),(427.3,-141.9),(429.8,-142.4),(432.3,-142.2),(434.7,-142.1),(437.2,-141.9),(439.7,-141.8),(442.2,-141.6),(444.7,-141.5),(447.1,-141.3),(449.6,-141.2),(452.1,-141.0),(454.6,-140.9),(457.1,-140.7),(460.3,-140.35),(462,-140.6),(464.5,-140.9),(467,-141.1),(469.5,-141.4),(473.2,-141.6),(476.9,-141.7),(480.6,-141.85),(483.1,-141.7),(485.6,-141.55),(488.1,-141.55),(490.6,-141.6),(494.3,-141.7),(498.8,-142.0),(502.5,-142.2),(505,-142.4),(508.7,-142.6),(512.4,-142.3),(514.9,-141.95),(517.4,-141.6),(518.6,-141.4),(521.1,-141.2),(524.8,-141.5),(527.3,-141.9),(529.8,-142.0),(532.3,-142.1),(534.7,-141.6),(536,-141.2),(538.5,-140.9),(539.7,-140.65),(542.2,-140.9),(544.7,-141.1),(547.1,-141.3),(549.6,-141.5),(552.1,-141.7),(554.6,-141.9),(558.3,-142.1),(560.8,-142.2),(563.3,-142.0),(565.8,-141.8),(568.2,-141.6),(570.7,-141.6),(573.2,-141.8),(575.7,-142.0),(578.2,-142.2),(581.9,-142.1),(585.6,-142.0),(588.1,-141.95),(590.6,-141.9),(593,-141.7),(595.5,-141.4),(598,-141.3),(600.5,-141.1),(604.2,-141.05),(606.7,-141.0),(609.2,-140.9),(611.7,-141.05),(614.1,-141.3),(616.6,-141.6),(619.1,-141.9),(629,-141.9),(631.5,-141.95),(632.8,-142.1),(635.2,-142.4),(637.7,-142.7),(640.2,-142.85),(642.7,-142.7),(645.2,-142.5),(647.6,-142.25),(650.1,-142.1),(652.6,-141.95),(655.1,-141.8),(657.6,-141.7),(660.1,-141.85),(662.5,-142.0),(665,-142.1),(667.5,-142.15),(670,-142.25),(672.5,-142.3),(674.9,-142.3),(677.4,-142.4),(679.9,-142.5),(682.4,-142.8),(684.9,-143.1),(687.3,-143.4),(689.8,-143.75),(692.3,-143.5),(694.8,-143.3),(697.3,-143.1),(699.8,-143.0),(702.2,-142.7),(704.7,-142.4),(707.2,-142.2),(709.7,-142.0),(713.4,-141.95),(728.3,-141.95),(732,-142.1),(734.5,-142.4),(737,-142.7),(739.5,-142.9),(742,-142.5),(744.2,-142.0),(746.6,-141.4),(749.1,-141.1),(751.6,-141.3),(754.1,-141.6),(756.6,-141.9),(759,-142.0),(762.8,-142.1),(767.7,-142.15),(777.7,-142.15),(781.4,-142.1),(785.1,-141.9),(788.8,-141.9),(791.3,-141.8),(793.8,-141.7),(796.3,-141.6),(798.8,-141.5),(802.5,-141.2),(805,-141.2),(808.7,-141.1),(811.2,-140.9),(813.6,-140.6),(816.1,-140.4),(818.6,-140.1),(821.1,-140.4),(823.6,-140.7),(826.1,-141.0),(828.5,-141.3),(831,-141.4),(833.5,-141.3),(837.2,-141.2),(841,-141.1),(844.7,-141.0),(847.1,-141.0),(849.6,-141.1),(850.9,-141.3),(853.4,-141.6),(855.8,-141.9),(858.3,-142.2),(860.8,-142.4),(863.3,-142.5),(867,-142.7),(870.7,-142.85),(873.2,-142.9),(875.7,-143.0),(878.9,-143.15),(881.4,-142.85),(883.9,-142.55),(886.8,-142.25),(889.3,-142.0),(891.8,-141.95),(895.5,-141.9),(898,-141.95),(900.5,-142.1),(903,-142.2),(906.7,-142.25),(909.2,-142.3),(911.7,-142.25),(915.4,-142.1),(919.1,-141.95),(922.8,-141.9),(926.5,-141.95),(929,-142.2),(931.5,-142.4),(933.9,-142.6),(936.4,-142.8),(938.9,-143.0),(941.4,-142.85),(943.9,-142.8),(947.6,-142.6),(951.4,-142.55),(955.1,-142.5),(958.8,-142.4),(961.3,-142.25),(962.5,-141.95),(963.8,-141.6),(966.2,-141.2),(968.7,-141.0),(971.2,-141.3),(973.7,-141.9),(976.2,-142.7),(977.4,-143.3),(979.9,-143.6),(982.4,-143.45),(984.9,-143.0),(988.6,-142.7),(991.1,-142.55),(993.5,-142.25),(996,-142.2),(1000,-142.1)]

series_data = [esd_event_1, esd_event_2, esd_event_3, esd_event_4, background_noise]
series_names = ["ESD event #1", "ESD event #2", "ESD event #3", "ESD event #4", "Background noise"]
series_colors = ["#0000FF", "#008000", "#FF0000", "#00BFBF", "#BF00BF"]

x_tick_values = [0, 100, 200, 300, 400, 500, 600, 700, 800, 900, 1000]
y_tick_values = [-150, -145, -140, -135, -130, -125, -120, -115, -110, -105]
y_tick_labels = ["-150", "-145", "-140", "-135", "-130", "-125", "-120", "-115", "-110", "-105"]

FONT = "Liberation Sans, Arial, sans-serif"

# plot area in page pixels
PLOT_L, PLOT_R, PLOT_T, PLOT_B = 177, 1528, 27, 1092
FIG_W, FIG_H = 1577, 1203


def paper_x(px):
    return (px - PLOT_L) / (PLOT_R - PLOT_L)


def paper_y(py):
    return (PLOT_B - py) / (PLOT_B - PLOT_T)


fig = go.Figure()
for pts, name, color in zip(series_data, series_names, series_colors):
    fig.add_trace(go.Scatter(
        x=[p[0] for p in pts],
        y=[p[1] for p in pts],
        mode="lines",
        name=name,
        line=dict(color=color, width=2.8),
        showlegend=False,
    ))

axis_common = dict(
    showline=True, linewidth=3, linecolor="black", mirror="allticks",
    ticks="inside", ticklen=13, tickwidth=2.5, tickcolor="black",
    showgrid=True, gridcolor="black", gridwidth=2.5, griddash="9px,9px",
    zeroline=False, automargin=False,
    tickfont=dict(family=FONT, size=38, color="black"),
)

fig.update_xaxes(
    range=[0, 1000], tickvals=x_tick_values,
    ticktext=[str(v) for v in x_tick_values],
    title=dict(text="Frequency (MHz)", font=dict(family=FONT, size=40, color="black"), standoff=23),
    ticklabelstandoff=-2,
    **axis_common,
)
fig.update_yaxes(
    range=[-150, -105], tickvals=y_tick_values, ticktext=y_tick_labels,
    title=dict(text="PSD (dBm/Hz)", font=dict(family=FONT, size=40, color="black"), standoff=18),
    ticklabelstandoff=7,
    **axis_common,
)

# legend box drawn over the plot area
LEG_L, LEG_R, LEG_T, LEG_B = 1006, 1510, 48, 354
ROW0, ROW_STEP = 83.5, 58.3
LINE_L, LINE_R, TEXT_L = 1031, 1152, 1165

shapes = [dict(
    type="rect", xref="paper", yref="paper", layer="above",
    x0=paper_x(LEG_L), x1=paper_x(LEG_R), y0=paper_y(LEG_B), y1=paper_y(LEG_T),
    line=dict(color="black", width=3), fillcolor="white",
)]
annotations = []
for i, (name, color) in enumerate(zip(series_names, series_colors)):
    row_y = paper_y(ROW0 + i * ROW_STEP)
    shapes.append(dict(
        type="line", xref="paper", yref="paper", layer="above",
        x0=paper_x(LINE_L), x1=paper_x(LINE_R), y0=row_y, y1=row_y,
        line=dict(color=color, width=2.5),
    ))
    annotations.append(dict(
        xref="paper", yref="paper", x=paper_x(TEXT_L), y=row_y,
        xanchor="left", yanchor="middle", text=name, showarrow=False,
        font=dict(family=FONT, size=40, color="black"),
    ))

fig.update_layout(
    width=FIG_W, height=FIG_H,
    margin=dict(l=PLOT_L, r=FIG_W - PLOT_R, t=PLOT_T, b=FIG_H - PLOT_B, pad=0),
    paper_bgcolor="white", plot_bgcolor="white",
    font=dict(family=FONT, color="black"),
    showlegend=False,
    shapes=shapes,
    annotations=annotations,
)

fig.write_html("out.html")
